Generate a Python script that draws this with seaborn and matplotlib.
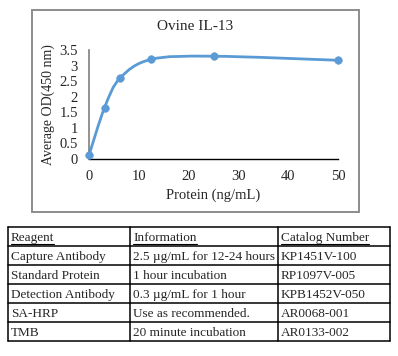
import matplotlib
matplotlib.use('Agg')
import matplotlib.pyplot as plt
from matplotlib.path import Path
from matplotlib.patches import PathPatch, Rectangle
import seaborn as sns
import numpy as np
import pandas as pd

# standard curve values
protein = [0, 3.125, 6.25, 12.5, 25, 50]
avg_od = [0.12, 1.65, 2.6, 3.2, 3.3, 3.17]

# reagent table
table_header = ['Reagent', 'Information', 'Catalog Number']
reagents = ['Capture Antibody', 'Standard Protein', 'Detection Antibody', 'SA-HRP', 'TMB']
information = ['2.5 \u00b5g/mL for 12-24 hours', '1 hour incubation', '0.3 \u00b5g/mL for 1 hour',
               'Use as recommended.', '20 minute incubation']
catalog = ['KP1451V-100', 'RP1097V-005', 'KPB1452V-050', 'AR0068-001', 'AR0133-002']

sns.set_style('white')
plt.rcParams['font.family'] = ['Liberation Serif', 'DejaVu Serif']

W, H = 398, 356
fig = plt.figure(figsize=(W / 100, H / 100), dpi=100)

def fx(px):
    return px / W

def fy(py):
    return 1 - py / H

# grey chart frame
fig.patches.append(Rectangle((fx(31.5), fy(211.5)), fx(359) - fx(31.5), fy(9.5) - fy(211.5),
                             transform=fig.transFigure, fill=False, edgecolor='#8c8c8c', lw=1.4))

ax = fig.add_axes([fx(89), fy(159), fx(338) - fx(89), fy(50) - fy(159)])
df = pd.DataFrame({'protein': protein, 'od': avg_od})
blue = '#5B9BD5'

# smoothed line (excel style, catmull-rom bezier through the points)
pts = np.column_stack([protein, avg_od]).astype(float)
verts = [tuple(pts[0])]
codes = [Path.MOVETO]
n = len(pts)
for i in range(n - 1):
    p0 = pts[max(i - 1, 0)]
    p1 = pts[i]
    p2 = pts[i + 1]
    p3 = pts[min(i + 2, n - 1)]
    c1 = p1 + (p2 - p0) / 6
    c2 = p2 - (p3 - p1) / 6
    verts += [tuple(c1), tuple(c2), tuple(p2)]
    codes += [Path.CURVE4] * 3
ax.add_patch(PathPatch(Path(verts, codes), fill=False, edgecolor=blue, lw=2, clip_on=False))

sns.scatterplot(data=df, x='protein', y='od', ax=ax, color=blue, s=30, edgecolor=blue,
                zorder=5, clip_on=False, legend=False)

ax.set_xlim(0, 50)
ax.set_ylim(0, 3.5)
ax.set_xticks([0, 10, 20, 30, 40, 50])
ax.set_yticks([0, 0.5, 1, 1.5, 2, 2.5, 3, 3.5])
ax.set_yticklabels(['0', '0.5', '1', '1.5', '2', '2.5', '3', '3.5'])
ax.tick_params(axis='both', length=0, labelsize=10.5, pad=8)
for s in ['top', 'right']:
    ax.spines[s].set_visible(False)
ax.spines['left'].set_color('#7f7f7f')
ax.spines['left'].set_linewidth(1.2)
ax.spines['bottom'].set_color('black')
ax.spines['bottom'].set_linewidth(1)
ax.set_xlabel('Protein (ng/mL)', fontsize=10.5, labelpad=4)
ax.set_ylabel('Average OD(450 nm)', fontsize=10, labelpad=3)
fig.text(fx(195), fy(27), 'Ovine IL-13', ha='center', va='center', fontsize=11)

# table drawn with lines and text
col_edges = [8, 130, 278, 390]
row_edges = [227, 246, 265, 284, 303, 322, 341]
tab = fig.add_axes([0, 0, 1, 1], facecolor='none')
tab.set_xlim(0, W)
tab.set_ylim(H, 0)
tab.axis('off')
for y in row_edges:
    tab.plot([col_edges[0], col_edges[-1]], [y, y], color='black', lw=1.1)
for x in col_edges:
    tab.plot([x, x], [row_edges[0], row_edges[-1]], color='black', lw=1.1)

columns = [reagents, information, catalog]
fig.canvas.draw()
renderer = fig.canvas.get_renderer()
for j, head in enumerate(table_header):
    yc = (row_edges[0] + row_edges[1]) / 2 + 1.5
    t = tab.text(col_edges[j] + 3, yc, head, ha='left', va='center', fontsize=9.5)
    bb = t.get_window_extent(renderer=renderer)
    # underline header
    tab.plot([col_edges[j] + 3, col_edges[j] + 3 + bb.width], [yc + 6, yc + 6], color='black', lw=0.8)
    for i, val in enumerate(columns[j]):
        yc = (row_edges[i + 1] + row_edges[i + 2]) / 2 + 1.5
        tab.text(col_edges[j] + 3, yc, val, ha='left', va='center', fontsize=9.5)

fig.savefig('out.png', dpi=100)
